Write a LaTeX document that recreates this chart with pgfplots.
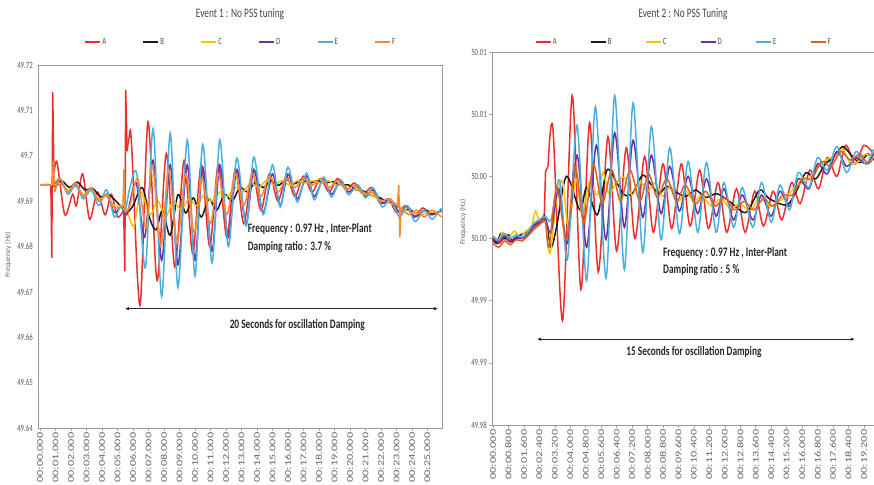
\documentclass[border=0pt]{standalone}
\usepackage{pgfplots}
\pgfplotsset{compat=1.18}
\usepackage{fontspec}
\usetikzlibrary{arrows.meta}
\setmainfont{Carlito}
\newfontfamily\cfont[FakeStretch=0.72]{Carlito}
\newfontfamily\rfont[FakeStretch=1.4]{Carlito}
\definecolor{cA}{HTML}{EE2E2E}
\definecolor{cB}{HTML}{1A1A1A}
\definecolor{cC}{HTML}{FFC000}
\definecolor{cD}{HTML}{7030A0}
\definecolor{cE}{HTML}{4AB0E0}
\definecolor{cF}{HTML}{F58B3A}
\definecolor{cG}{HTML}{D9661F}
\pgfplotsset{
  panel/.style={
    scale only axis, clip=false,
    axis line style={black!40, line width=0.8bp},
    tick style={black!35, line width=0.6bp},
    major tick length=3bp, tick align=outside,
    xtick pos=bottom, ytick pos=left,
    xticklabel style={rotate=90, anchor=east, font=\rfont\fontsize{8.8}{9}\selectfont, text=black!60, inner sep=1.5bp},
    yticklabel style={font=\cfont\fontsize{9.5}{10}\selectfont, text=black!65, inner sep=2bp},
    ylabel style={font=\fontsize{7.5}{8}\selectfont, text=black!60, anchor=center},
    legend columns=6,
    legend image code/.code={\draw[#1, line width=2.6bp] (0bp,0bp) -- (15bp,0bp);},
  },
  ln/.style={line width=1.5bp, forget plot},
}
\begin{document}
\begin{tikzpicture}
\useasboundingbox (0,0) rectangle (874bp,485bp);
% ---------------- Left panel ----------------
\begin{axis}[panel,
  at={(38bp,57bp)}, anchor=south west, width=404bp, height=363bp,
  xmin=-0.13, xmax=25.94, ymin=49.64, ymax=49.72,
  xtick={0,1,2,3,4,5,6,7,8,9,10,11,12,13,14,15,16,17,18,19,20,21,22,23,24,25},
  xticklabels={00:00.000,00:01.000,00:02.000,00:03.000,00:04.000,00:05.000,00:06.000,00:07.000,00:08.000,00:09.000,00:10.000,00:11.000,00:12.000,00:13.000,00:14.000,00:15.000,00:16.000,00:17.000,00:18.000,00:19.000,00:20.000,00:21.000,00:22.000,00:23.000,00:24.000,00:25.000},
  ytick={49.64,49.65,49.66,49.67,49.68,49.69,49.7,49.71,49.72},
  yticklabels={49.64,49.65,49.66,49.67,49.68,49.69,49.7,49.71,49.72},
  ytick style={draw=none},
  ylabel={Frequency (Hz)},
  ylabel style={at={(axis description cs:-0.074,0.477)}},
  legend style={draw=none, fill=none, at={(axis description cs:0.5,1.063)}, anchor=center,
    font=\cfont\fontsize{9.5}{10}\selectfont, text=black!70, nodes={inner xsep=0.8bp},
    /tikz/every odd column/.append style={column sep=0bp},
    /tikz/every even column/.append style={column sep=35bp}},
]
\addlegendimage{cA}\addlegendentry{A}
\addlegendimage{cB}\addlegendentry{B}
\addlegendimage{cC}\addlegendentry{C}
\addlegendimage{cD}\addlegendentry{D}
\addlegendimage{cE}\addlegendentry{E}
\addlegendimage{cF}\addlegendentry{F}
% A
\addplot[ln, cA, sharp plot] coordinates {(0,49.6936)(0.7,49.6936)(0.76,49.6775)(0.82,49.714)(0.9,49.696)};
\addplot[ln, cA, smooth] coordinates {(0.9,49.696)(1.1,49.6985)(1.6,49.687)(2.1,49.6915)(2.35,49.689)(2.75,49.696)(3.2,49.686)(3.7,49.692)(4.2,49.687)(4.6,49.6915)(5.0,49.6865)(5.4,49.688)};
\addplot[ln, cA, sharp plot] coordinates {(5.4,49.688)(5.47,49.6745)(5.53,49.7145)(5.62,49.701)};
\addplot[ln, cA, smooth] coordinates {(5.62,49.701)(5.75,49.704)(5.9,49.703)(6.45,49.667)(6.97,49.7075)(7.55,49.6725)(8.15,49.7005)(8.7,49.6755)(9.3,49.699)(9.85,49.6785)(10.4,49.698)(10.95,49.68)(11.5,49.698)(12.05,49.682)(12.6,49.697)(13.15,49.685)(13.7,49.6965)(14.25,49.688)(14.8,49.696)(15.35,49.69)(15.9,49.6955)(16.45,49.691)(17.0,49.6955)(17.55,49.692)(18.1,49.695)(18.65,49.692)(19.2,49.695)(19.75,49.6925)(20.3,49.694)(20.85,49.6915)(21.4,49.693)(21.95,49.6895)(22.5,49.6905)(23.0,49.6875)(23.6,49.689)(24.1,49.6865)(24.7,49.6885)(25.2,49.687)(25.9,49.688)};
% B
\addplot[ln, cB, smooth] coordinates {(0,49.6936)(0.7,49.6936)(1.0,49.6932)(1.4,49.6945)(1.9,49.693)(2.4,49.6942)(2.9,49.6925)(3.4,49.6928)(3.9,49.691)(4.4,49.6915)(4.9,49.69)(5.3,49.6885)(5.6,49.6875)(6.0,49.689)(6.6,49.693)(7.1,49.686)(7.5,49.6837)(7.9,49.688)(8.4,49.6825)(8.9,49.6914)(9.4,49.6874)(9.9,49.6907)(10.4,49.6865)(10.9,49.6905)(11.4,49.688)(11.9,49.6915)(12.4,49.69)(12.9,49.693)(13.4,49.692)(13.9,49.6942)(14.4,49.693)(14.9,49.6945)(15.4,49.6935)(15.9,49.6948)(16.4,49.6938)(16.9,49.6948)(17.4,49.694)(17.9,49.6945)(18.4,49.694)(18.9,49.6943)(19.4,49.6935)(19.9,49.6936)(20.4,49.6925)(20.9,49.6922)(21.4,49.6912)(21.9,49.6908)(22.4,49.6898)(22.9,49.6892)(23.4,49.6882)(23.9,49.688)(24.4,49.6872)(24.9,49.688)(25.4,49.6872)(25.9,49.688)};
% C
\addplot[ln, cC, smooth] coordinates {(0,49.6936)(0.8,49.6936)(1.3,49.694)(1.8,49.6925)(2.3,49.6935)(2.8,49.6915)(3.3,49.6925)(3.8,49.6905)(4.3,49.691)(4.8,49.689)(5.3,49.689)(5.6,49.688)(6.05,49.6845)(6.5,49.692)(7.1,49.687)(7.6,49.69)(8.1,49.6865)(8.6,49.69)(9.1,49.688)(9.6,49.6905)(10.1,49.689)(10.6,49.6915)(11.1,49.69)(11.6,49.692)(12.1,49.691)(12.6,49.693)(13.1,49.692)(13.6,49.694)(14.1,49.693)(14.6,49.6945)(15.1,49.6935)(15.6,49.6945)(16.1,49.6935)(16.6,49.6945)(17.1,49.694)(17.6,49.6945)(18.1,49.694)(18.6,49.6945)(19.1,49.6935)(19.6,49.6935)(20.1,49.6925)(20.6,49.6925)(21.1,49.6915)(21.6,49.691)(22.1,49.69)(22.6,49.6895)(23.1,49.689)(23.6,49.688)(24.1,49.6875)(24.6,49.687)(25.1,49.6875)(25.9,49.6875)};
% D
\addplot[ln, cD, smooth] coordinates {(0,49.6936)(0.8,49.6936)(1.3,49.6945)(1.8,49.692)(2.3,49.6935)(2.8,49.691)(3.3,49.6925)(3.8,49.69)(4.3,49.6915)(4.8,49.6875)(5.3,49.689)(5.6,49.687)(6.2,49.694)(6.75,49.682)(7.3,49.699)(7.85,49.677)(8.4,49.698)(8.9,49.676)(9.5,49.698)(10.0,49.677)(10.5,49.6975)(11.1,49.679)(11.6,49.698)(12.15,49.682)(12.7,49.697)(13.3,49.685)(13.8,49.697)(14.4,49.6875)(15.0,49.696)(15.5,49.689)(16.0,49.696)(16.6,49.6905)(17.2,49.6955)(17.7,49.691)(18.3,49.695)(18.8,49.6915)(19.4,49.6945)(19.9,49.692)(20.5,49.6935)(21.0,49.691)(21.5,49.6925)(22.1,49.6895)(22.6,49.6905)(23.2,49.6875)(23.7,49.689)(24.2,49.6865)(24.8,49.688)(25.3,49.687)(25.9,49.688)};
% E
\addplot[ln, cE, smooth] coordinates {(0,49.6936)(0.8,49.6936)(1.3,49.695)(1.8,49.6915)(2.3,49.6935)(2.8,49.6905)(3.3,49.6925)(3.8,49.689)(4.3,49.6925)(4.8,49.6865)(5.2,49.689)(5.5,49.688)(5.8,49.693)(6.25,49.696)(6.8,49.6753)(7.3,49.706)(7.85,49.669)(8.4,49.705)(8.9,49.671)(9.5,49.7035)(10.0,49.6735)(10.5,49.7025)(11.1,49.6764)(11.6,49.7035)(12.15,49.68)(12.7,49.6995)(13.3,49.6845)(13.8,49.6997)(14.4,49.687)(15.0,49.698)(15.5,49.6887)(16.0,49.6975)(16.6,49.6898)(17.2,49.6962)(17.7,49.6903)(18.3,49.6953)(18.8,49.6909)(19.4,49.6947)(19.9,49.6914)(20.5,49.6936)(21.0,49.6907)(21.5,49.6929)(22.1,49.6887)(22.6,49.6905)(23.2,49.6865)(23.7,49.689)(24.2,49.6855)(24.8,49.688)(25.3,49.686)(25.9,49.6885)};
% F
\addplot[ln, cF, sharp plot] coordinates {(0,49.6936)(0.8,49.6936)(0.86,49.699)(0.95,49.692)};
\addplot[ln, cF, smooth] coordinates {(0.95,49.692)(1.3,49.695)(1.8,49.692)(2.3,49.694)(2.8,49.691)(3.3,49.693)(3.8,49.69)(4.3,49.6915)(4.8,49.6885)(5.35,49.689)};
\addplot[ln, cF, sharp plot] coordinates {(5.35,49.689)(5.42,49.697)(5.5,49.6875)};
\addplot[ln, cF, smooth] coordinates {(5.5,49.6875)(5.8,49.689)(6.3,49.695)(6.85,49.684)(7.25,49.698)(7.8,49.68)(8.3,49.697)(8.85,49.681)(9.4,49.696)(9.95,49.683)(10.45,49.695)(11.0,49.685)(11.5,49.696)(12.05,49.687)(12.6,49.696)(13.15,49.689)(13.7,49.696)(14.25,49.691)(14.8,49.6955)(15.35,49.692)(15.9,49.695)(16.45,49.693)(17.0,49.695)(17.55,49.6935)(18.1,49.695)(18.65,49.693)(19.2,49.6945)(19.75,49.6925)(20.3,49.6935)(20.85,49.6915)(21.4,49.692)(21.95,49.69)(22.5,49.6905)(23.05,49.689)};
\addplot[ln, cF, sharp plot] coordinates {(23.05,49.689)(23.15,49.6935)(23.22,49.682)(23.3,49.6885)};
\addplot[ln, cF, smooth] coordinates {(23.3,49.6885)(23.8,49.687)(24.3,49.688)(24.8,49.6865)(25.3,49.688)(25.9,49.6865)};
% annotations
\node[font=\cfont\fontsize{13}{14}\selectfont, text=black!72] at (axis description cs:0.5,1.1405) {Event 1 : No PSS tuning};
\node[font=\cfont\bfseries\fontsize{13}{14}\selectfont, text=black!85, anchor=west, inner sep=0pt] at (axis cs:13.4,49.6839) {Frequency : 0.97 Hz , Inter-Plant};
\node[font=\cfont\bfseries\fontsize{13}{14}\selectfont, text=black!85, anchor=west, inner sep=0pt] at (axis cs:13.4,49.6799) {Damping ratio : 3.7 \%};
\draw[{Latex[length=4bp,width=3.5bp]}-{Latex[length=4bp,width=3.5bp]}, black!85, line width=0.8bp] (axis cs:5.48,49.6663) -- (axis cs:25.68,49.6663);
\node[font=\cfont\bfseries\fontsize{13}{14}\selectfont, text=black!85] at (axis cs:16.6,49.6627) {20 Seconds for oscillation Damping};
\end{axis}
% ---------------- Right panel ----------------
\begin{axis}[panel,
  at={(492bp,60bp)}, anchor=south west, width=382bp, height=373bp,
  xmin=-0.05, xmax=19.72, ymin=49.98, ymax=50.01,
  xtick={0,0.8,1.6,2.4,3.2,4,4.8,5.6,6.4,7.2,8,8.8,9.6,10.4,11.2,12,12.8,13.6,14.4,15.2,16,16.8,17.6,18.4,19.2},
  xticklabels={00:00.000,00:00.800,00:01.600,00:02.400,00:03.200,00:04.000,00:04.800,00:05.600,00:06.400,00:07.200,00:08.000,00:08.800,00:09.600,00:10.400,00:11.200,00:12.000,00:12.800,00:13.600,00:14.400,00:15.200,00:16.000,00:16.800,00:17.600,00:18.400,00:19.200},
  ytick={49.98,49.985,49.99,49.995,50,50.005,50.01},
  yticklabels={49.98,49.99,49.99,50.00,50.00,50.01,50.01},
  ylabel={Frequency (Hz)},
  ylabel style={at={(axis description cs:-0.076,0.544)}},
  legend style={draw=none, fill=none, at={(axis description cs:0.5,1.027)}, anchor=center,
    font=\cfont\fontsize{9.5}{10}\selectfont, text=black!70, nodes={inner xsep=0.8bp},
    /tikz/every odd column/.append style={column sep=0bp},
    /tikz/every even column/.append style={column sep=32bp}},
]
\addlegendimage{cA}\addlegendentry{A}
\addlegendimage{cB}\addlegendentry{B}
\addlegendimage{cC}\addlegendentry{C}
\addlegendimage{cD}\addlegendentry{D}
\addlegendimage{cE}\addlegendentry{E}
\addlegendimage{cG}\addlegendentry{F}
% A
\addplot[ln, cA, smooth] coordinates {(0,49.9948)(0.3,49.9946)(0.6,49.995)(0.9,49.9947)(1.2,49.995)(1.5,49.995)(1.8,49.9954)(2.1,49.9959)(2.4,49.9962)(2.65,49.9964)};
\addplot[ln, cA, sharp plot] coordinates {(2.65,49.9964)(2.72,50.0004)(2.85,50.0008)};
\addplot[ln, cA, smooth] coordinates {(2.85,50.0008)(3.1,50.0039)(3.6,49.9884)(4.1,50.0065)(4.55,49.9909)(5.0,50.0043)(5.45,49.9923)(5.95,50.0032)(6.4,49.994)(6.9,50.0023)(7.35,49.995)(7.85,50.0016)(8.3,49.9955)(8.8,50.001)(9.25,49.9958)(9.75,50.001)(10.2,49.996)(10.7,50.0005)(11.15,49.9958)(11.65,49.9995)(12.1,49.9955)(12.6,49.999)(13.05,49.9955)(13.55,49.9988)(14.0,49.996)(14.5,49.9988)(14.95,49.9965)(15.45,49.9995)(15.9,49.9978)(16.4,50.0005)(16.85,49.999)(17.3,50.0015)(17.8,50.0)(18.25,50.0025)(18.75,50.001)(19.2,50.0025)(19.7,50.0018)};
% B
\addplot[ln, cB, smooth] coordinates {(0,49.995)(0.2,49.9946)(0.4,49.9954)(0.6,49.995)(0.8,49.9953)(1.0,49.9948)(1.3,49.9952)(1.6,49.9954)(1.9,49.9956)(2.2,49.9963)(2.5,49.9965)(2.7,49.9968)(3.0,49.9943)(3.3,49.996)(3.8,50.0)(4.5,49.9973)(4.85,49.9991)(5.4,49.9969)(5.9,50.0005)(6.4,49.9995)(6.8,49.9985)(7.25,49.9987)(7.75,50.0001)(8.2,49.9993)(8.6,49.9986)(9.0,49.9992)(9.5,49.9987)(10.0,49.9984)(10.5,49.9989)(11.0,49.9983)(11.6,49.9986)(12.3,49.9979)(13.1,49.9971)(13.8,49.9989)(14.3,49.9982)(15.2,49.9977)(15.7,49.9988)(16.2,50.0003)(16.7,49.9998)(17.2,50.001)(17.7,50.0016)(18.1,50.0024)(18.6,50.0016)(19.0,50.0011)(19.4,50.0018)(19.7,50.0013)};
% C
\addplot[ln, cC, smooth] coordinates {(0,49.9951)(0.3,49.9949)(0.5,49.9955)(0.8,49.995)(1.1,49.9956)(1.4,49.9951)(1.7,49.9956)(2.0,49.996)(2.2,49.9972)(2.4,49.9964)(2.7,49.9967)(2.95,49.9938)(3.3,49.9983)(3.6,49.9996)(3.9,49.996)(4.3,49.9998)(4.6,49.997)(5.0,49.9995)(5.4,49.9985)(5.7,50.0003)(6.0,49.9986)(6.4,49.9995)(6.8,49.9999)(7.2,49.9985)(7.6,49.9996)(8.0,49.9988)(8.4,49.9995)(8.8,49.9984)(9.2,49.9992)(9.6,49.998)(10.0,49.9988)(10.4,49.9979)(10.8,49.9985)(11.3,49.9976)(11.8,49.9982)(12.3,49.9974)(12.8,49.9978)(13.3,49.9972)(13.8,49.9983)(14.3,49.9976)(14.8,49.998)(15.2,49.9984)(15.7,49.9992)(16.2,49.9996)(16.7,50.0005)(17.2,50.0013)(17.7,50.0016)(18.1,50.0022)(18.5,50.001)(18.9,50.0012)(19.3,50.0018)(19.7,50.0014)};
% D
\addplot[ln, cD, smooth] coordinates {(0,49.995)(0.3,49.9947)(0.6,49.9952)(0.9,49.9948)(1.2,49.9951)(1.5,49.995)(1.8,49.9953)(2.1,49.996)(2.4,49.9963)(2.7,49.9966)(3.0,49.9955)(3.4,49.999)(3.85,49.9946)(4.35,50.0017)(4.85,49.9943)(5.35,50.0025)(5.85,49.9949)(6.3,50.0035)(6.8,49.9959)(7.25,50.0029)(7.75,49.9967)(8.2,50.0017)(8.7,49.997)(9.15,50.0008)(9.65,49.9972)(10.1,50.0)(10.6,49.997)(11.05,49.9998)(11.55,49.9968)(11.95,49.999)(12.45,49.9965)(12.9,49.9985)(13.45,49.9965)(13.9,49.9985)(14.4,49.9968)(14.85,49.9988)(15.35,49.9976)(15.8,49.9998)(16.35,49.999)(16.8,50.001)(17.3,50.0002)(17.8,50.002)(18.3,50.0008)(18.8,50.0015)(19.3,50.001)(19.7,50.0018)};
% E
\addplot[ln, cE, smooth] coordinates {(0,49.9952)(0.3,49.9949)(0.6,49.9954)(0.9,49.995)(1.2,49.9953)(1.5,49.9951)(1.8,49.9955)(2.1,49.9962)(2.4,49.9965)(2.7,49.9968)(3.0,49.9965)(3.45,49.9997)(3.85,49.9933)(4.35,50.0041)(4.85,49.9916)(5.3,50.0056)(5.85,49.9918)(6.3,50.0065)(6.8,49.9925)(7.25,50.0059)(7.75,49.9939)(8.2,50.004)(8.7,49.9949)(9.15,50.0023)(9.65,49.9954)(10.1,50.0012)(10.6,49.9955)(11.05,50.0011)(11.55,49.9955)(11.95,49.9995)(12.45,49.9959)(12.9,49.9991)(13.45,49.9959)(13.9,49.9995)(14.4,49.9963)(14.85,49.9993)(15.35,49.9973)(15.8,50.0003)(16.35,49.9991)(16.8,50.0015)(17.3,50.0005)(17.8,50.0024)(18.3,50.0003)(18.8,50.002)(19.3,50.001)(19.7,50.0022)};
% F
\addplot[ln, cG, smooth] coordinates {(0,49.9946)(0.3,49.9943)(0.6,49.9948)(0.9,49.9945)(1.2,49.9949)(1.5,49.9948)(1.8,49.9952)(2.1,49.9957)(2.4,49.9961)(2.7,49.9964)(2.9,49.9943)(3.3,49.9991)(3.8,49.9949)(4.25,50.0008)(4.7,49.9963)(5.2,50.0009)(5.65,49.9978)(6.15,50.0005)(6.6,49.998)(7.1,50.0005)(7.6,49.998)(8.05,50.0002)(8.5,49.9983)(9.0,49.9998)(9.5,49.998)(9.95,49.9993)(10.5,49.9978)(11.0,49.9988)(11.5,49.9976)(12.0,49.9983)(12.5,49.9973)(13.0,49.998)(13.5,49.9973)(14.0,49.9982)(14.5,49.9976)(15.0,49.9985)(15.5,49.9985)(16.0,49.9998)(16.5,49.9998)(17.0,50.0012)(17.5,50.0008)(18.0,50.002)(18.5,50.0013)(19.0,50.0018)(19.4,50.001)(19.7,50.0015)};
% annotations
\node[font=\cfont\fontsize{13}{14}\selectfont, text=black!72] at (axis description cs:0.5,1.102) {Event 2 : No PSS Tuning};
\node[font=\cfont\bfseries\fontsize{13}{14}\selectfont, text=black!85, anchor=west, inner sep=0pt] at (axis cs:8.8,49.9938) {Frequency : 0.97 Hz , Inter-Plant};
\node[font=\cfont\bfseries\fontsize{13}{14}\selectfont, text=black!85, anchor=west, inner sep=0pt] at (axis cs:8.8,49.9925) {Damping ratio : 5 \%};
\draw[{Latex[length=4bp,width=3.5bp]}-{Latex[length=4bp,width=3.5bp]}, black!85, line width=0.8bp] (axis cs:2.28,49.9869) -- (axis cs:18.73,49.9869);
\node[font=\cfont\bfseries\fontsize{13}{14}\selectfont, text=black!85] at (axis cs:10.4,49.9859) {15 Seconds for oscillation Damping};
\end{axis}
\end{tikzpicture}
\end{document}
